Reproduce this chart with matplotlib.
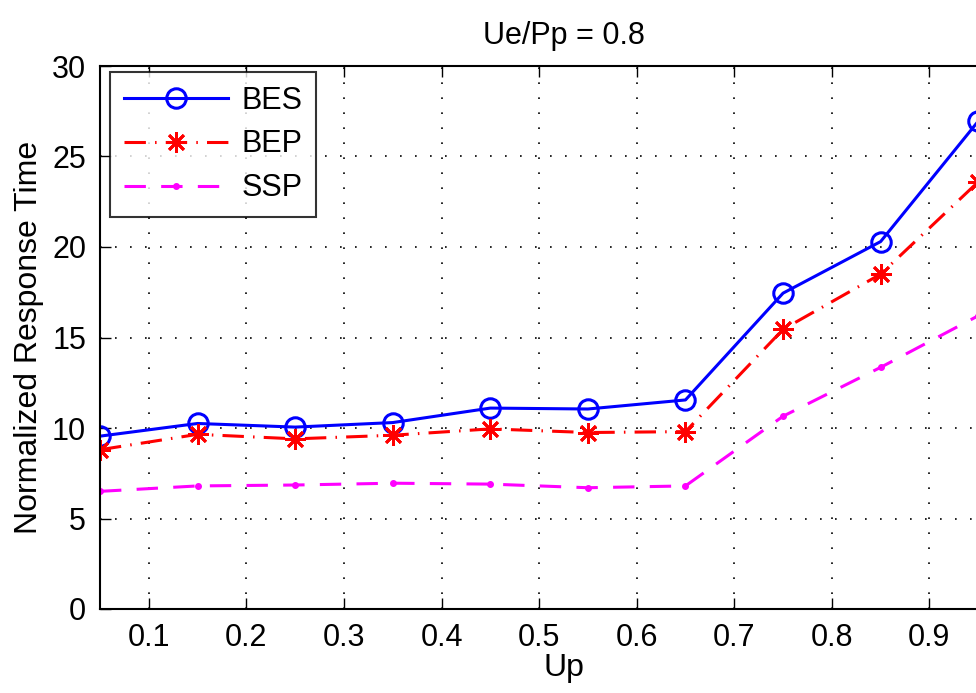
import matplotlib
matplotlib.use("Agg")
import matplotlib.pyplot as plt

up = [0.05, 0.15, 0.25, 0.35, 0.45, 0.55, 0.65, 0.75, 0.85, 0.95]
bes = [9.55, 10.25, 10.05, 10.3, 11.1, 11.05, 11.55, 17.45, 20.3, 26.95]
bep = [8.8, 9.65, 9.4, 9.6, 9.95, 9.75, 9.8, 15.45, 18.5, 23.6]
ssp = [6.5, 6.8, 6.85, 6.95, 6.9, 6.7, 6.8, 10.65, 13.35, 16.2]
xticks = [0.1, 0.2, 0.3, 0.4, 0.5, 0.6, 0.7, 0.8, 0.9]
yticks = [0, 5, 10, 15, 20, 25, 30]

plt.rcParams["font.family"] = ["Liberation Sans", "DejaVu Sans"]

fig = plt.figure(figsize=(9.76, 6.93), dpi=100)
# axes run past the right edge of the picture, as in the reference
ax = fig.add_axes([100 / 976, 84 / 693, 927 / 976, 543 / 693])

ax.plot(up, bes, color="#0000ff", linestyle="-", linewidth=2.2,
        marker="o", markersize=14, markerfacecolor="none",
        markeredgewidth=2.2, label="BES")
ax.plot(up, bep, color="#ff0000", linestyle=(0, (7, 3, 0.5, 3)), linewidth=2.2,
        marker=(8, 2, 0), markersize=15, markeredgewidth=2.0, label="BEP")
ax.plot(up, ssp, color="#ff00ff", linestyle=(0, (7, 5)), linewidth=2.2,
        marker=".", markersize=8, label="SSP")

ax.set_xlim(0.05, 1.0)
ax.set_ylim(0, 30)
ax.set_xticks(xticks)
ax.set_xticklabels([f"{v:.1f}" for v in xticks])
ax.set_yticks(yticks)
ax.tick_params(direction="in", length=8, width=1, labelsize=22, pad=10,
               top=True, right=True)
ax.grid(True, color="black", linestyle=(0, (1, 8)), linewidth=1.2)
for s in ax.spines.values():
    s.set_linewidth(1.5)

ax.set_xlabel("Up", fontsize=23, labelpad=0)
ax.set_ylabel("Normalized Response Time", fontsize=23, labelpad=6)
ax.set_title("Ue/Pp = 0.8", fontsize=22, pad=16)

leg = ax.legend(loc="upper left", fontsize=22, frameon=True, fancybox=False,
                edgecolor="black", handlelength=3.4, borderpad=0.45,
                labelspacing=0.45, handletextpad=0.45, borderaxespad=0,
                bbox_to_anchor=(10 / 927, 1 - 6 / 543))
leg.get_frame().set_linewidth(1.5)

fig.savefig("out.png", dpi=100)
